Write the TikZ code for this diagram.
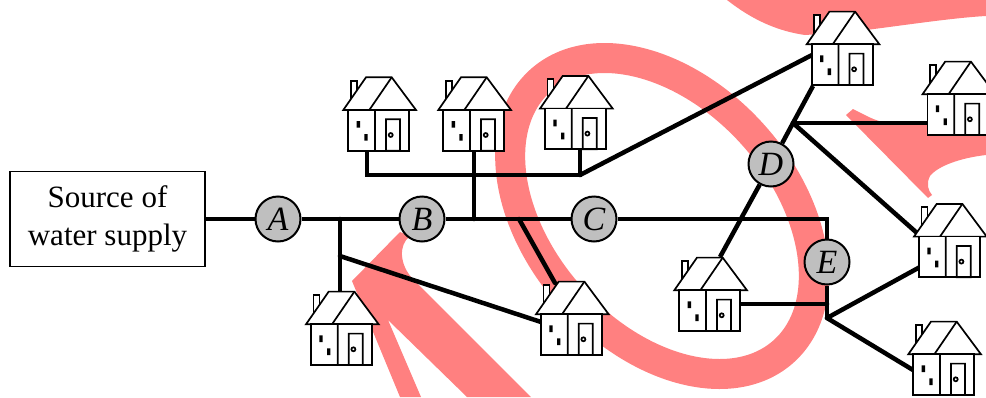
\documentclass[tikz,border=0pt]{standalone}
\usepackage{fontspec}
\setmainfont{Liberation Serif}
\usepackage{tkz-euclide}
\definecolor{MarkClr}{rgb}{1,0.5,0.5}
\definecolor{ValveClr}{rgb}{0.75,0.75,0.75}
\tikzset{
  valve/.style={circle,draw,line width=2pt,fill=ValveClr,minimum size=45pt,inner sep=0pt,
    font=\fontsize{34}{34}\selectfont\itshape},
  house/.pic={
    \filldraw[fill=white] (2.4,-48) rectangle (8.4,-70);
    \filldraw[fill=white] (-5,-40.7) -- (17.7,-73.4) -- (43.4,-73.4) -- (67.7,-40.7) -- cycle;
    \draw (43.4,-73.4) -- (21,-40.7);
    \filldraw[fill=white] (0,0) rectangle (61,-40.7);
    \draw (26.7,0) -- (26.7,-40.7) (37.7,0) rectangle (51.7,-31.4) (42.4,-15.7) circle (2);
    \fill (8.4,-29.7) rectangle (11.7,-23) (16,-16.7) rectangle (19.4,-10);
  }
}

\begin{document}
\begin{tikzpicture}[x=1pt,y=-1pt,pipe/.style={line width=4.5pt},hse/.style={line width=1.7pt}]
\useasboundingbox (0,0) rectangle (986,397);
\tkzSetUpLine[line width=4.5pt,color=black]

\fill[MarkClr] (400,232) -- (352,281) -- (400,397) -- (421,397) -- (388,320) -- (467,397) -- (531,397)
  -- (412,278) .. controls (400,265) and (398,245) .. (410,236) -- cycle;
\draw[MarkClr,line width=30pt,shift={(662,216)},rotate=-48] (0,0) ellipse [x radius=182,y radius=122];
\fill[MarkClr] (727,0) .. controls (745,14) and (770,30) .. (805,35) -- (850,32)
  .. controls (900,26) and (950,18) .. (986,16) -- (986,0) -- cycle;
\fill[MarkClr] (846,115) -- (853,109) .. controls (865,115) and (875,121) .. (887,123) -- (986,128)
  -- (986,155) .. controls (960,158) and (938,166) .. (930,176) .. controls (926,184) and (928,190) .. (932,195)
  -- (928,198) -- cycle;

\tkzDefPoints{340/219/jA,340/256/jK,474/219/jB,474/175/jT,367/175/jL,580/175/jR,519/219/jC}
\tkzDefPoints{793/123/jD,827/219/cE,827/304/jH,827/318/jE}
\tkzDefPoints{340/292/hA,541/322/hB,367/151/hC,474/151/hD,580/149/hE,812/55/hF,555/283/hG}
\tkzDefPoints{720/257/hH,813/86/hI,927/123/hJ,917/233/hK,740/304/hL,920/267/hM,913/370/hN}

\node[draw,line width=1.5pt,minimum width=195pt,minimum height=95pt,align=center,
  font=\fontsize{31}{38}\selectfont] (S) at (107.5,219) {Source of\\water supply};
\node[valve] (A) at (278,219) {A};
\node[valve] (B) at (422,219) {B};
\node[valve] (C) at (594,219) {C};
\node[valve] (D) at (771,164) {D};
\node[valve] (E) at (827,262) {E};

\draw[pipe] (S) -- (A) -- (B) -- (C) -- (cE) -- (E) -- (jE);
\draw[pipe] (hC) -- (jL) -- (jR) -- (hE);
\draw[pipe] (hH) -- (D) -- (jD) -- (hI);
\tkzDrawSegments(jA,hA jK,hB jB,jT jT,hD jC,hG jR,hF jD,hJ jD,hK jH,hL jE,hM jE,hN)

\pic[hse] at (348.3,150.7) {house};
\pic[hse] at (443.3,150.7) {house};
\pic[hse] at (545,149.3) {house};
\pic[hse] at (311,365) {house};
\pic[hse] at (541,355) {house};
\pic[hse] at (679.3,331) {house};
\pic[hse] at (811.7,85) {house};
\pic[hse] at (927.5,135) {house};
\pic[hse] at (919,277.3) {house};
\pic[hse] at (913.3,395) {house};

\end{tikzpicture}
\end{document}
